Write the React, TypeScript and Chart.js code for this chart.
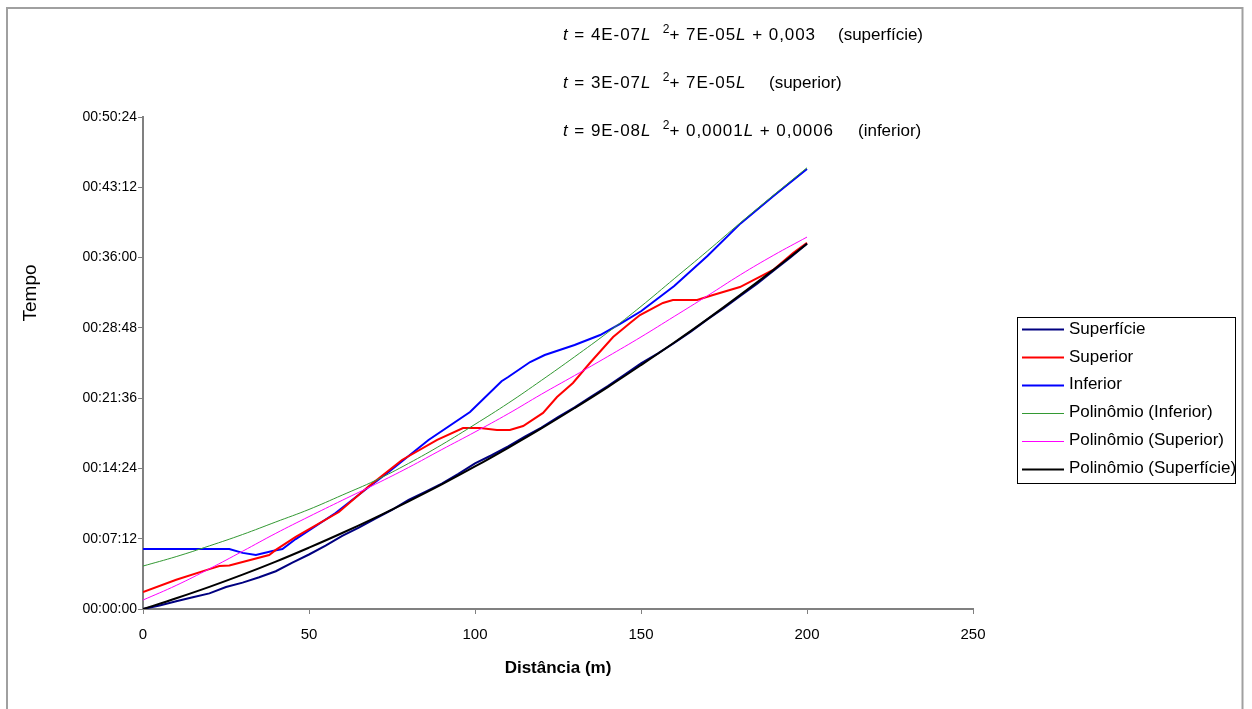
import React, { useEffect, useRef } from 'react';
import { Chart, registerables } from 'chart.js';

Chart.register(...registerables);

const FONT = '"Liberation Sans", Arial, sans-serif';

// ---- axes ----
const X_MIN = 0;
const X_MAX = 250;
const X_STEP = 50;
const Y_MIN = 0;
const Y_MAX = 3024; // seconds (00:50:24)
const Y_STEP = 432; // 00:07:12

// ---- series names / colours ----
const SERIES_NAMES = [
  'Superfície',
  'Superior',
  'Inferior',
  'Polinômio (Inferior)',
  'Polinômio (Superior)',
  'Polinômio (Superfície)',
];
const SERIES_COLORS = ['#000080', '#ff0000', '#0000ff', '#339933', '#ff00ff', '#000000'];
const SERIES_WIDTHS = [2, 2, 2, 1, 1, 2];

// ---- measured series (distance m, time s) ----
const superficieL = [0, 5, 10, 15, 20, 25, 30, 35, 40, 45, 50, 55, 60, 65, 70, 75, 80, 85, 90, 95, 100, 105, 110, 115, 120, 125, 130, 135, 140, 145, 150, 155, 160, 165, 170, 175, 180, 185, 190, 195, 200];
const superficieT = [0, 22, 48, 72, 96, 135, 162, 195, 232, 285, 335, 390, 450, 500, 555, 610, 670, 720, 770, 830, 895, 945, 1000, 1060, 1115, 1180, 1240, 1305, 1370, 1440, 1510, 1570, 1635, 1705, 1780, 1850, 1925, 2000, 2080, 2160, 2245];

const superiorL = [0, 10, 20, 23, 26, 38, 40, 46, 59, 68, 78, 88.6, 96.4, 101.5, 106.6, 110.5, 114.5, 120.5, 124.7, 129.5, 134.6, 141.6, 146.7, 149.7, 156.6, 159.6, 166.9, 171.7, 179.8, 189.8, 195.8, 200];
const superiorT = [104, 180, 245, 264, 268, 332, 363, 443, 596, 755, 916, 1039, 1112, 1112, 1100, 1100, 1125, 1205, 1303, 1389, 1512, 1672, 1758, 1807, 1881, 1899, 1899, 1930, 1979, 2084, 2188, 2250];

const inferiorL = [0, 26, 30, 34, 39, 42, 46, 58, 68, 74, 86, 98.5, 108, 110, 116.6, 121, 130, 137.7, 143.7, 150, 160, 170, 180, 190, 200];
const inferiorT = [369, 369, 345, 332, 357, 369, 430, 590, 750, 842, 1039, 1211, 1400, 1426, 1518, 1561, 1623, 1684, 1752, 1830, 1985, 2170, 2370, 2540, 2704];

// ---- trendlines, read every 10 m ----
const polyL = [0, 10, 20, 30, 40, 50, 60, 70, 80, 90, 100, 110, 120, 130, 140, 150, 160, 170, 180, 190, 200];
const polyInferiorT = [264, 322, 388, 458, 535, 612, 700, 790, 895, 1010, 1135, 1265, 1405, 1550, 1700, 1860, 2030, 2200, 2375, 2545, 2712];
const polySuperiorT = [55, 145, 247, 355, 465, 568, 668, 767, 870, 980, 1088, 1200, 1320, 1435, 1552, 1672, 1798, 1925, 2055, 2175, 2286];
const polySuperficieT = [0, 66, 136, 211, 291, 377, 467, 562, 662, 766, 876, 991, 1110, 1235, 1364, 1499, 1638, 1782, 1932, 2086, 2245];

// ---- equation annotations ----
type Seg = { t: string; i?: boolean; sup?: boolean };
const EQ_LINES: Seg[][] = [
  [{ t: 't', i: true }, { t: ' = 4E-07' }, { t: 'L', i: true }, { t: '  ' }, { t: '2', sup: true }, { t: '+ 7E-05' }, { t: 'L', i: true }, { t: ' + 0,003' }],
  [{ t: 't', i: true }, { t: ' = 3E-07' }, { t: 'L', i: true }, { t: '  ' }, { t: '2', sup: true }, { t: '+ 7E-05' }, { t: 'L', i: true }],
  [{ t: 't', i: true }, { t: ' = 9E-08' }, { t: 'L', i: true }, { t: '  ' }, { t: '2', sup: true }, { t: '+ 0,0001' }, { t: 'L', i: true }, { t: ' + 0,0006' }],
];
const EQ_TAGS = ['(superfície)', '(superior)', '(inferior)'];

const X_TITLE = 'Distância (m)';
const Y_TITLE = 'Tempo';

function fmtTime(v: number) {
  const s = Math.round(v);
  const h = Math.floor(s / 3600);
  const m = Math.floor((s % 3600) / 60);
  const sec = s % 60;
  const p = (n: number) => String(n).padStart(2, '0');
  return `${p(h)}:${p(m)}:${p(sec)}`;
}

function pts(xs: number[], ys: number[]) {
  return xs.map((x, i) => ({ x, y: ys[i] }));
}

const framePlugin = {
  id: 'frame',
  beforeDraw(chart: any) {
    const ctx = chart.ctx;
    ctx.save();
    ctx.fillStyle = '#ffffff';
    ctx.fillRect(0, 0, chart.width, chart.height);
    ctx.strokeStyle = '#a0a0a0';
    ctx.lineWidth = 2;
    ctx.strokeRect(7, 8, 1235.5, 720);
    ctx.restore();
  },
};

function drawSpaced(ctx: any, text: string, x: number, y: number, ls: number) {
  let cx = x;
  for (const ch of text) {
    ctx.fillText(ch, cx, y);
    cx += ctx.measureText(ch).width + ls;
  }
  return cx;
}

const textPlugin = {
  id: 'texts',
  afterDraw(chart: any) {
    const ctx = chart.ctx;
    ctx.save();
    ctx.fillStyle = '#000';
    ctx.textBaseline = 'middle';
    ctx.textAlign = 'left';

    // equations
    const eqY = [35, 83, 131];
    const tagX = [838, 769, 858];
    EQ_LINES.forEach((segs, li) => {
      let cx = 563;
      for (const s of segs) {
        const size = s.sup ? 12 : 17;
        ctx.font = `${s.i ? 'italic ' : ''}${size}px ${FONT}`;
        cx = drawSpaced(ctx, s.t, cx, s.sup ? eqY[li] - 5 : eqY[li], s.sup ? 0 : 0.95);
      }
      ctx.font = `17px ${FONT}`;
      ctx.fillText(EQ_TAGS[li], tagX[li], eqY[li]);
    });

    // axis titles
    ctx.font = `bold 17px ${FONT}`;
    ctx.textAlign = 'center';
    ctx.fillText(X_TITLE, 558, 668);
    ctx.save();
    ctx.translate(31, 293);
    ctx.rotate(-Math.PI / 2);
    ctx.font = `19px ${FONT}`;
    ctx.fillText(Y_TITLE, 0, 0);
    ctx.restore();

    // legend
    ctx.strokeStyle = '#000';
    ctx.lineWidth = 1;
    ctx.strokeRect(1017.5, 317.5, 218, 166);
    ctx.font = `17px ${FONT}`;
    ctx.textAlign = 'left';
    SERIES_NAMES.forEach((name, i) => {
      const y = 329 + i * 27.9;
      ctx.strokeStyle = SERIES_COLORS[i];
      ctx.lineWidth = SERIES_WIDTHS[i];
      ctx.beginPath();
      ctx.moveTo(1022, Math.round(y) + 0.5);
      ctx.lineTo(1064, Math.round(y) + 0.5);
      ctx.stroke();
      ctx.fillStyle = '#000';
      ctx.fillText(name, 1069, y);
    });
    ctx.restore();
  },
};

export default function App() {
  const ref = useRef<HTMLCanvasElement | null>(null);

  useEffect(() => {
    if (!ref.current) return;
    const seriesData = [
      pts(superficieL, superficieT),
      pts(superiorL, superiorT),
      pts(inferiorL, inferiorT),
      pts(polyL, polyInferiorT),
      pts(polyL, polySuperiorT),
      pts(polyL, polySuperficieT),
    ];
    const orders = [1, 1, 1, 0, 0, 0];
    const chart = new Chart(ref.current, {
      type: 'line',
      data: {
        datasets: seriesData.map((d, i) => ({
          label: SERIES_NAMES[i],
          data: d,
          borderColor: SERIES_COLORS[i],
          backgroundColor: SERIES_COLORS[i],
          borderWidth: SERIES_WIDTHS[i],
          pointRadius: 0,
          tension: i >= 3 ? 0.4 : 0,
          fill: false,
          order: orders[i],
        })),
      },
      options: {
        animation: false,
        responsive: false,
        maintainAspectRatio: false,
        layout: { padding: { top: 117, right: 279, left: 0, bottom: 0 } },
        plugins: {
          legend: { display: false },
          tooltip: { enabled: false },
        },
        scales: {
          x: {
            type: 'linear',
            min: X_MIN,
            max: X_MAX,
            ticks: {
              stepSize: X_STEP,
              color: '#000',
              font: { family: FONT, size: 15 },
              padding: 12,
              maxRotation: 0,
            },
            grid: { drawOnChartArea: false, drawTicks: true, tickLength: 5, color: '#808080', lineWidth: 1 },
            border: { display: true, color: '#808080', width: 2 },
            afterFit: (s: any) => {
              s.height = 100;
            },
          },
          y: {
            type: 'linear',
            min: Y_MIN,
            max: Y_MAX,
            ticks: {
              stepSize: Y_STEP,
              color: '#000',
              font: { family: FONT, size: 14 },
              padding: 1,
              callback: (v: any) => fmtTime(Number(v)),
            },
            grid: { drawOnChartArea: false, drawTicks: true, tickLength: 5, color: '#808080', lineWidth: 1 },
            border: { display: true, color: '#808080', width: 2 },
            afterFit: (s: any) => {
              s.width = 143;
            },
          },
        },
      },
      plugins: [framePlugin, textPlugin],
    });
    return () => chart.destroy();
  }, []);

  return (
    <div style={{ position: 'fixed', left: 0, top: 0, width: 1252, height: 709 }}>
      <canvas ref={ref} width={1252} height={709} style={{ width: 1252, height: 709, display: 'block' }} />
    </div>
  );
}
